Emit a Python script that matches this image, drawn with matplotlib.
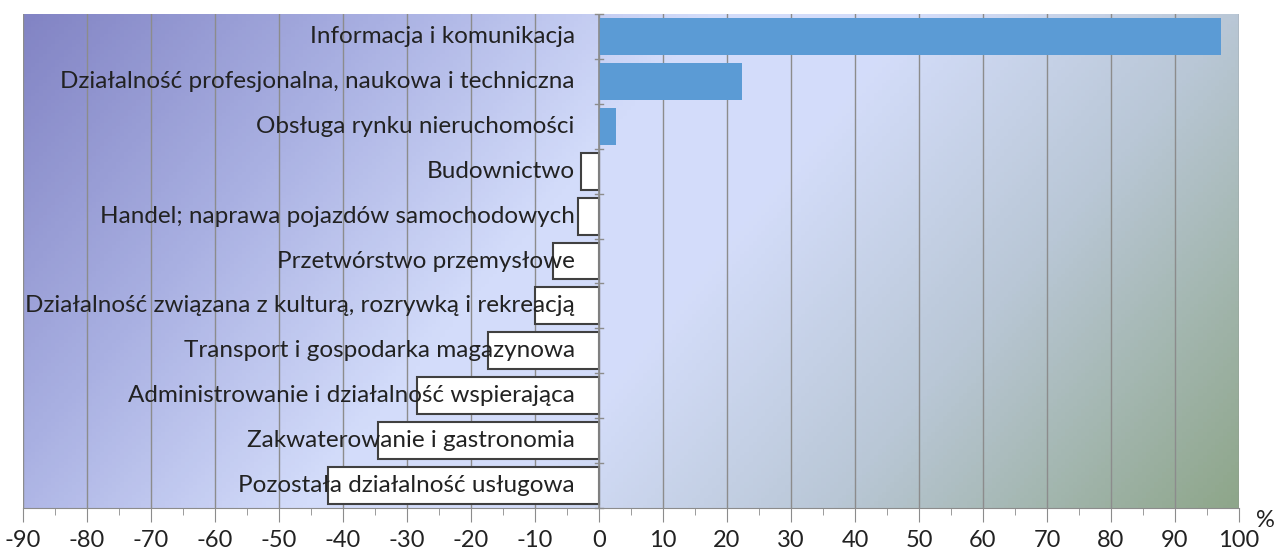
import numpy as np
import matplotlib.pyplot as plt
from matplotlib.colors import LinearSegmentedColormap
from matplotlib.ticker import MultipleLocator

plt.rcParams['font.family'] = ['Lato', 'DejaVu Sans']
plt.rcParams['axes.unicode_minus'] = False

categories = [
    'Informacja i komunikacja',
    'Działalność profesjonalna, naukowa i techniczna',
    'Obsługa rynku nieruchomości',
    'Budownictwo',
    'Handel; naprawa pojazdów samochodowych',
    'Przetwórstwo przemysłowe',
    'Działalność związana z kulturą, rozrywką i rekreacją',
    'Transport i gospodarka magazynowa',
    'Administrowanie i działalność wspierająca',
    'Zakwaterowanie i gastronomia',
    'Pozostała działalność usługowa',
]
values = [97.2, 22.3, 2.7, -2.8, -3.3, -7.2, -10.0, -17.3, -28.4, -34.5, -42.3]
xticks = list(range(-90, 101, 10))

fig = plt.figure(figsize=(12.77, 5.57), dpi=100)
ax = fig.add_axes([23 / 1277, 49 / 557, 1216 / 1277, 494 / 557])

n = len(categories)
ypos = np.arange(n)[::-1]
ax.set_xlim(-90, 100)
ax.set_ylim(-0.5, n - 0.5)

# diagonal gradient background, dark purple top-left -> green bottom-right
gx, gy = np.meshgrid(np.linspace(0, 1, 300), np.linspace(0, 1, 150))
t = 0.75 * gx + 0.25 * gy
cmap = LinearSegmentedColormap.from_list('bg', [
    (0.0, '#8284c4'), (0.22, '#a9b0e2'), (0.42, '#d3dcfa'), (0.55, '#d4ddfa'),
    (0.75, '#b9c7d6'), (1.0, '#8ea68a')])
ax.imshow(t, cmap=cmap, extent=[-90, 100, -0.5, n - 0.5], aspect='auto',
          origin='upper', zorder=0)

for x in xticks:
    ax.axvline(x, color='#8c8c8c', lw=1.0, zorder=1)

for y, v, name in zip(ypos, values, categories):
    if v >= 0:
        ax.barh(y, v, height=0.82, color='#5b9bd5', zorder=2)
    else:
        ax.barh(y, v, height=0.82, color='white', edgecolor='#404040', lw=1.5, zorder=2)
    ax.text(-3.8, y, name, ha='right', va='center', fontsize=17.5,
            color='#222222', zorder=3)

# zero axis with crossing ticks
ax.axvline(0, color='#8c8c8c', lw=1.2, zorder=2.5)
for b in np.arange(-0.5, n, 1.0):
    ax.plot([-0.7, 0.7], [b, b], color='#8c8c8c', lw=1.0, zorder=2.5, clip_on=False)

for s in ['top', 'right', 'left']:
    ax.spines[s].set_visible(False)
ax.spines['bottom'].set_color('#8c8c8c')
ax.set_yticks([])
ax.set_xticks(xticks)
ax.xaxis.set_minor_locator(MultipleLocator(5))
ax.tick_params(axis='x', which='major', length=10, color='#8c8c8c',
               labelsize=17, pad=6, labelcolor='#222222')
ax.tick_params(axis='x', which='minor', length=5, color='#8c8c8c')
ax.text(1.014, -0.005, '%', transform=ax.transAxes, fontsize=17,
        ha='left', va='top', color='#222222')

fig.savefig('out.png')
